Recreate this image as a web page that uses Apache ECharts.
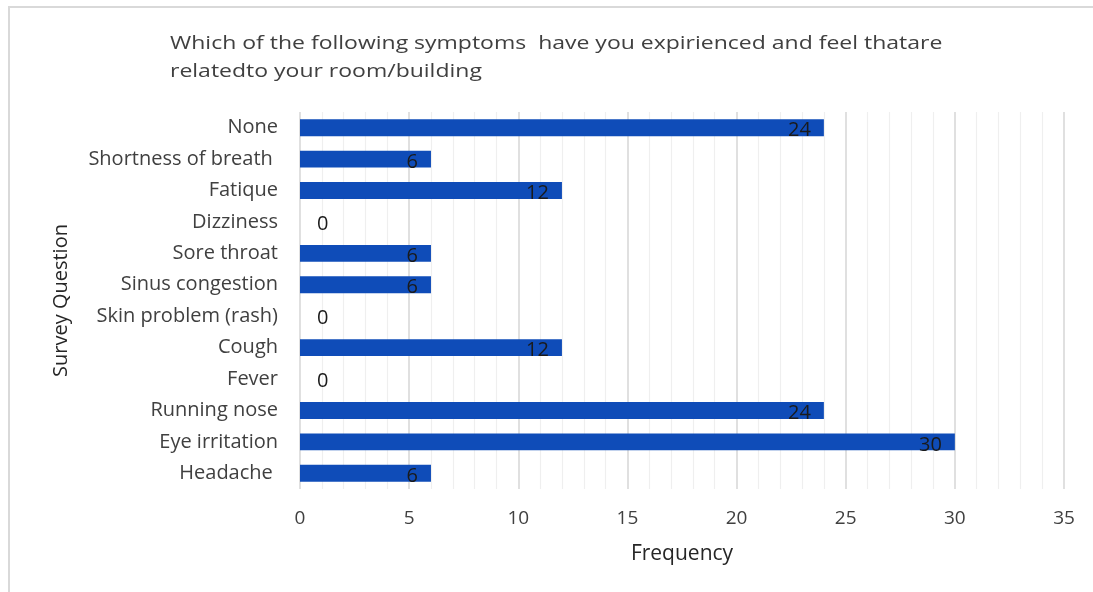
<!DOCTYPE html>
<html>
<head>
<meta charset="utf-8">
<script src="https://cdn.jsdelivr.net/npm/echarts@6/dist/echarts.min.js"></script>
<style>
  html, body { margin: 0; padding: 0; background: #ffffff; }
  #chart { width: 1093px; height: 592px; }
</style>
</head>
<body>
<div id="chart"></div>
<script>
// Symptoms listed top to bottom
const categories = [
  'None', 'Shortness of breath ', 'Fatique', 'Dizziness', 'Sore throat',
  'Sinus congestion', 'Skin problem (rash)', 'Cough', 'Fever',
  'Running nose', 'Eye irritation', 'Headache '
];
// Number of respondents per symptom
const frequency = [24, 6, 12, 0, 6, 6, 0, 12, 0, 24, 30, 6];
// Frequency axis ticks
const xTicks = [0, 5, 10, 15, 20, 25, 30, 35];

const titleLines = [
  'Which of the following symptoms  have you expirienced and feel thatare',
  'relatedto your room/building'
];

const FONT = '"Open Sans", sans-serif';
const TEXT = '#404040';

const chart = echarts.init(document.getElementById('chart'), null, { renderer: 'canvas' });

// Zero-valued bars carry their label just outside the axis
const barData = frequency.map(v => v === 0
  ? { value: v, label: { position: 'right', distance: 17, offset: [0, 2] } }
  : v);

// Title drawn as wide-set text, one element per line
const titleGraphics = titleLines.map((line, i) => ({
  type: 'text',
  x: 170,
  y: 34 + i * 28,
  scaleX: 1.21,
  silent: true,
  style: {
    text: line,
    font: '19px ' + FONT,
    fill: TEXT,
    textVerticalAlign: 'top'
  }
}));

chart.setOption({
  animation: false,
  backgroundColor: '#ffffff',
  textStyle: { fontFamily: FONT },
  graphic: [{
    type: 'rect',
    shape: { x: 9, y: 7, width: 1200, height: 700 },
    style: { fill: 'none', stroke: '#d9d9d9', lineWidth: 2 },
    silent: true
  }].concat(titleGraphics),
  grid: { left: 300, right: 29, top: 112, bottom: 103, containLabel: false },
  xAxis: {
    type: 'value',
    min: xTicks[0],
    max: xTicks[xTicks.length - 1],
    interval: xTicks[1] - xTicks[0],
    name: 'Frequency',
    nameLocation: 'middle',
    nameGap: 55,
    nameTextStyle: { fontFamily: FONT, fontSize: 21, color: '#262626' },
    axisLine: { show: false },
    axisTick: { show: false },
    axisLabel: { fontFamily: FONT, fontSize: 19, color: TEXT, margin: 20 },
    splitLine: { show: true, lineStyle: { color: '#d6d6d6', width: 1.5 } },
    minorTick: { show: false, splitNumber: 5 },
    minorSplitLine: { show: true, lineStyle: { color: '#efefef', width: 1.2 } }
  },
  yAxis: {
    type: 'category',
    data: categories,
    inverse: true,
    name: 'Survey Question',
    nameLocation: 'middle',
    nameRotate: 90,
    nameGap: 229,
    nameTextStyle: { fontFamily: FONT, fontSize: 20, color: '#262626' },
    axisLine: { show: false },
    axisTick: { show: false },
    axisLabel: { fontFamily: FONT, fontSize: 20, color: TEXT, margin: 22 },
    splitLine: { show: false }
  },
  series: [{
    type: 'bar',
    data: barData,
    barWidth: '54%',
    itemStyle: { color: '#0f4cb8' },
    label: {
      show: true,
      position: 'insideRight',
      distance: 13,
      offset: [0, 3],
      fontFamily: FONT,
      fontSize: 20,
      color: '#1a1a1a'
    }
  }]
});
</script>
</body>
</html>
